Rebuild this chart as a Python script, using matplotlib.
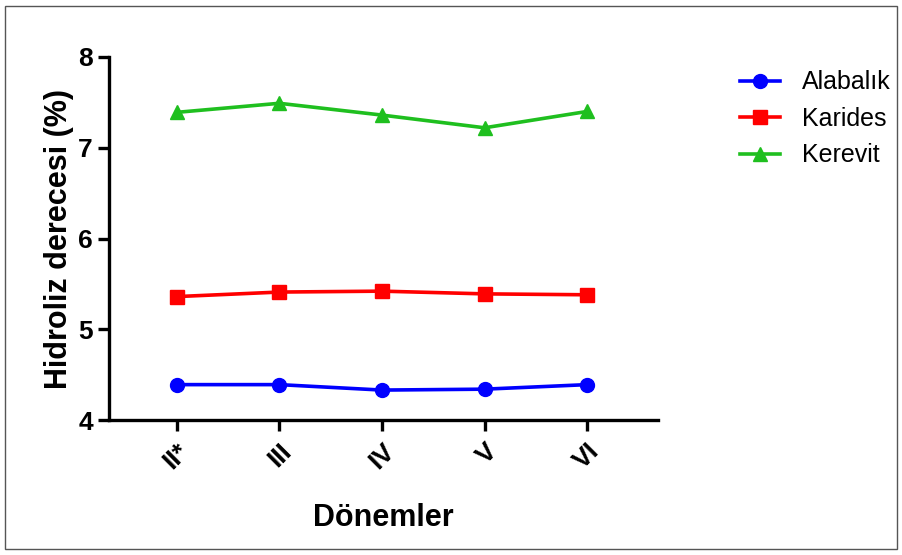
import numpy as np
import matplotlib.pyplot as plt
from matplotlib.patches import Rectangle

plt.rcParams['font.family'] = ['Liberation Sans', 'DejaVu Sans']

# Data
periods = ['II*', 'III', 'IV', 'V', 'VI']
alabalik = [4.39, 4.39, 4.33, 4.34, 4.39]
karides = [5.36, 5.41, 5.42, 5.39, 5.38]
kerevit = [7.39, 7.49, 7.36, 7.22, 7.40]

x = np.arange(len(periods))

fig = plt.figure(figsize=(9.02, 5.55), dpi=100)
ax = fig.add_axes([0.1208, 0.2432, 0.6087, 0.6541])

ax.plot(x, alabalik, color='#0000ff', marker='o', markersize=10, lw=2.6, label='Alabalık')
ax.plot(x, karides, color='#ff0000', marker='s', markersize=10, lw=2.6, label='Karides')
ax.plot(x, kerevit, color='#1fbf1f', marker='^', markersize=10, lw=2.6, label='Kerevit')

ax.set_xlim(-0.66, 4.69)
ax.set_ylim(4, 8)
ax.set_yticks([4, 5, 6, 7, 8])
ax.set_xticks(x)
ax.set_xticklabels(periods, rotation=45, ha='right', rotation_mode='anchor')

for s in ['top', 'right']:
    ax.spines[s].set_visible(False)
for s in ['left', 'bottom']:
    ax.spines[s].set_linewidth(2.4)
ax.tick_params(width=2.4, length=8, labelsize=19)
ax.tick_params(axis='x', pad=6)
for lab in ax.get_xticklabels() + ax.get_yticklabels():
    lab.set_fontweight('bold')

ax.set_ylabel('Hidroliz derecesi (%)', fontsize=22, fontweight='bold', labelpad=3)
ax.set_xlabel('Dönemler', fontsize=22, fontweight='bold', labelpad=21)

leg = ax.legend(loc='upper left', bbox_to_anchor=(1.149, 0.963), frameon=False,
                borderaxespad=0, borderpad=0,
                fontsize=18, handlelength=1.6, handletextpad=0.9, labelspacing=0.5)

fig.patches.append(Rectangle((0.006, 0.01), 0.988, 0.98, transform=fig.transFigure,
                             fill=False, edgecolor='#555555', lw=1.0))

fig.savefig('out.png', dpi=100)
